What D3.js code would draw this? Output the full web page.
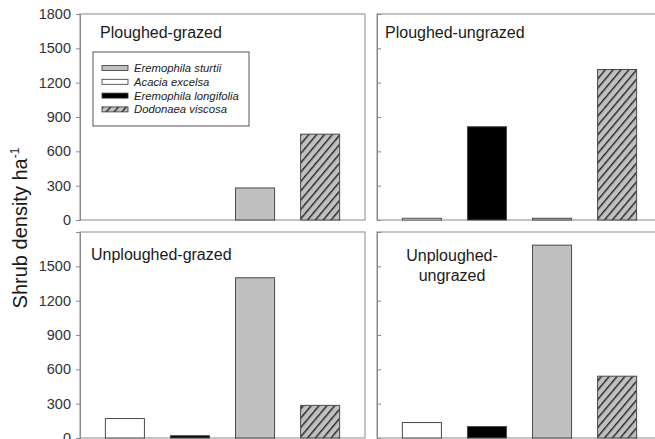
<!DOCTYPE html>
<html>
<head>
<meta charset="utf-8">
<script src="https://cdn.jsdelivr.net/npm/d3@7"></script>
<style>
  body { margin: 0; background: #fff; }
  svg { display: block; font-family: "Liberation Sans", Arial, sans-serif; }
</style>
</head>
<body>
<svg id="chart" width="655" height="439"></svg>
<script>
// species along the x axis of every panel
const species = ["Acacia excelsa", "Eremophila longifolia", "Eremophila sturtii", "Dodonaea viscosa"];
const legendOrder = ["Eremophila sturtii", "Acacia excelsa", "Eremophila longifolia", "Dodonaea viscosa"];
const panelNames = ["Ploughed-grazed", "Ploughed-ungrazed", "Unploughed-grazed", "Unploughed-ungrazed"];

// shrub density per ha, same order as species
const ploughedGrazed = [0, 0, 280, 750];
const ploughedUngrazed = [15, 815, 15, 1315];
const unploughedGrazed = [170, 20, 1400, 285];
const unploughedUngrazed = [135, 100, 1685, 540];

const yTicks = [0, 300, 600, 900, 1200, 1500, 1800];

const panelValues = [ploughedGrazed, ploughedUngrazed, unploughedGrazed, unploughedUngrazed];

// panel layout
const pw = 285, ph = 206;
const colX = [80, 377];
const rowY = [14, 232];

const fills = {
	"Acacia excelsa": "#ffffff",
	"Eremophila longifolia": "#000000",
	"Eremophila sturtii": "#c0c0c0",
	"Dodonaea viscosa": "url(#hatch)"
};

const svg = d3.select("#chart");

// hatch pattern for Dodonaea
const pat = svg.append("defs").append("pattern")
	.attr("id", "hatch")
	.attr("patternUnits", "userSpaceOnUse")
	.attr("width", 6).attr("height", 6)
	.attr("patternTransform", "rotate(40)");
pat.append("rect").attr("width", 6).attr("height", 6).attr("fill", "#c0c0c0");
pat.append("line").attr("x1", 0.7).attr("y1", 0).attr("x2", 0.7).attr("y2", 6)
	.attr("stroke", "#222").attr("stroke-width", 1.4);

const x = d3.scaleBand().domain(species).range([0, pw]).paddingInner(0.4).paddingOuter(0.39);
const y = d3.scaleLinear().domain([0, 1800]).range([ph, 0]);

panelValues.forEach((vals, i) => {
	const col = i % 2, row = Math.floor(i / 2);
	const g = svg.append("g").attr("transform", `translate(${colX[col]},${rowY[row]})`);

	// frame
	g.append("rect")
		.attr("x", 0).attr("y", 0).attr("width", pw).attr("height", ph)
		.attr("fill", "none").attr("stroke", "#8a8a8a").attr("stroke-width", 1);

	// y axis
	let axis;
	if (col === 0) {
		const tv = row === 0 ? yTicks : yTicks.filter(t => t < 1800);
		axis = d3.axisLeft(y).tickValues(tv).tickSize(4).tickPadding(5).tickFormat(d3.format("d"));
	} else {
		axis = d3.axisLeft(y).tickValues(yTicks).tickSize(-4).tickFormat("");
	}
	const ax = g.append("g").call(axis);
	ax.select(".domain").attr("stroke", "#8a8a8a");
	ax.selectAll(".tick line").attr("stroke", "#8a8a8a");
	ax.selectAll(".tick text")
		.attr("fill", "#333")
		.style("font-size", "14.5px")
		.style("font-family", "Liberation Sans, Arial, sans-serif");

	// bars
	g.selectAll("rect.bar").data(species.map((s, k) => ({name: s, value: vals[k]})).filter(d => d.value > 0))
		.enter().append("rect")
		.attr("class", "bar")
		.attr("x", d => x(d.name))
		.attr("width", x.bandwidth())
		.attr("y", d => y(d.value))
		.attr("height", d => ph - y(d.value))
		.attr("fill", d => fills[d.name])
		.attr("stroke", "#4a4a4a")
		.attr("stroke-width", 1);
});

// panel titles
const titleStyle = sel => sel.attr("fill", "#1a1a1a").style("font-size", "16px");
svg.append("text").attr("x", 100).attr("y", 38).text(panelNames[0]).call(titleStyle);
svg.append("text").attr("x", 385).attr("y", 38).text(panelNames[1]).call(titleStyle);
svg.append("text").attr("x", 91).attr("y", 260).text(panelNames[2]).call(titleStyle);
const t4 = svg.append("text").attr("text-anchor", "middle").call(titleStyle);
t4.append("tspan").attr("x", 452).attr("y", 261).text("Unploughed-");
t4.append("tspan").attr("x", 452).attr("y", 281).text("ungrazed");

// legend
const lg = svg.append("g").attr("transform", "translate(93,52)");
lg.append("rect").attr("width", 156).attr("height", 74)
	.attr("fill", "#fff").attr("stroke", "#555").attr("stroke-width", 1);
legendOrder.forEach((name, k) => {
	const ly = 16 + k * 13.8;
	lg.append("rect")
		.attr("x", 9).attr("y", ly - 2.5).attr("width", 26).attr("height", 5)
		.attr("fill", fills[name]).attr("stroke", "#333").attr("stroke-width", 0.8);
	lg.append("text")
		.attr("x", 41).attr("y", ly + 4)
		.attr("fill", "#222")
		.style("font-size", "11.3px").style("font-style", "italic")
		.text(name);
});

// y axis title
const yl = svg.append("text")
	.attr("transform", "translate(27,228) rotate(-90)")
	.attr("text-anchor", "middle")
	.attr("fill", "#1a1a1a")
	.style("font-size", "20px");
yl.append("tspan").text("Shrub density ha");
yl.append("tspan").attr("dy", -8).style("font-size", "12px").text("-1");
</script>
</body>
</html>
